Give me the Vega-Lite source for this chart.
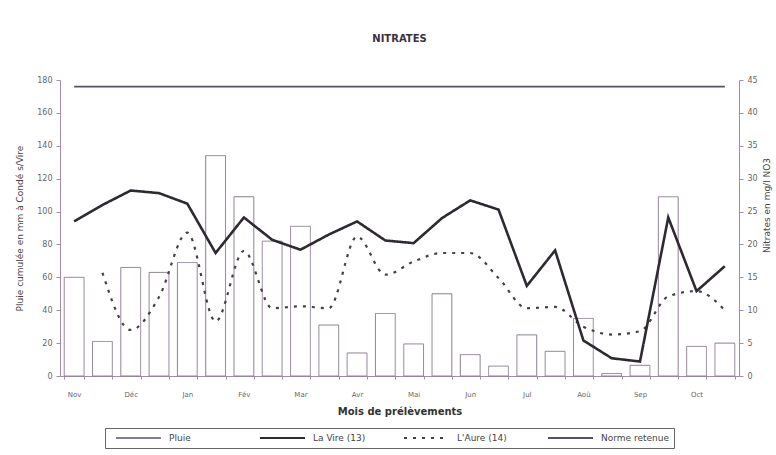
{
  "$schema": "https://vega.github.io/schema/vega-lite/v6.json",
  "width": 679,
  "height": 296,
  "autosize": {"type": "none"},
  "padding": {"left": 60, "top": 80, "right": 37, "bottom": 79},
  "background": "white",
  "config": {
    "font": "DejaVu Sans",
    "view": {"stroke": null},
    "axis": {"domainColor": "#a58aaa", "tickColor": "#a58aaa", "labelColor": "#666666", "labelFontSize": 8, "titleColor": "#444444", "titleFontWeight": "normal", "grid": false},
    "legend": {
      "orient": "none",
      "legendX": 45,
      "legendY": 348,
      "direction": "horizontal",
      "columns": 4,
      "padding": 5,
      "strokeColor": "#666666",
      "fillColor": "white",
      "symbolSize": 2025,
      "symbolOffset": 5,
      "labelOffset": 7,
      "columnPadding": 17,
      "gridAlign": "all",
      "clipHeight": 10,
      "labelFontSize": 9,
      "labelColor": "#444444",
      "symbolType": "stroke",
      "symbolStrokeWidth": 2,
      "title": null
    }
  },
  "title": {"text": "NITRATES", "fontSize": 10, "fontWeight": "bold", "color": "#3a3040", "offset": 32, "anchor": "middle"},
  "data": {
    "values": [
      {"q": "Nov 1", "pluie": 60, "vire": 23.5, "aure": null, "norme": 44},
      {"q": "Nov 2", "pluie": 21, "vire": 26, "aure": 15.7, "norme": 44},
      {"q": "Déc 1", "pluie": 66, "vire": 28.2, "aure": 7.0, "norme": 44},
      {"q": "Déc 2", "pluie": 63, "vire": 27.8, "aure": 12, "norme": 44},
      {"q": "Jan 1", "pluie": 69, "vire": 26.2, "aure": 21.8, "norme": 44},
      {"q": "Jan 2", "pluie": 134, "vire": 18.7, "aure": 8.3, "norme": 44},
      {"q": "Fév 1", "pluie": 109, "vire": 24.1, "aure": 19.0, "norme": 44},
      {"q": "Fév 2", "pluie": 82, "vire": 20.7, "aure": 10.3, "norme": 44},
      {"q": "Mar 1", "pluie": 91, "vire": 19.2, "aure": 10.6, "norme": 44},
      {"q": "Mar 2", "pluie": 31, "vire": 21.5, "aure": 10.3, "norme": 44},
      {"q": "Avr 1", "pluie": 14, "vire": 23.5, "aure": 21.2, "norme": 44},
      {"q": "Avr 2", "pluie": 38, "vire": 20.6, "aure": 15.4, "norme": 44},
      {"q": "Mai 1", "pluie": 19.5, "vire": 20.2, "aure": 17.4, "norme": 44},
      {"q": "Mai 2", "pluie": 50, "vire": 24.0, "aure": 18.7, "norme": 44},
      {"q": "Jun 1", "pluie": 13, "vire": 26.7, "aure": 18.7, "norme": 44},
      {"q": "Jun 2", "pluie": 6, "vire": 25.3, "aure": 14.9, "norme": 44},
      {"q": "Jul 1", "pluie": 25, "vire": 13.7, "aure": 10.3, "norme": 44},
      {"q": "Jul 2", "pluie": 15, "vire": 19.1, "aure": 10.5, "norme": 44},
      {"q": "Aoû 1", "pluie": 35, "vire": 5.4, "aure": 7.5, "norme": 44},
      {"q": "Aoû 2", "pluie": 1.5, "vire": 2.7, "aure": 6.3, "norme": 44},
      {"q": "Sep 1", "pluie": 6.5, "vire": 2.2, "aure": 6.8, "norme": 44},
      {"q": "Sep 2", "pluie": 109, "vire": 24.1, "aure": 12.1, "norme": 44},
      {"q": "Oct 1", "pluie": 18, "vire": 12.9, "aure": 12.9, "norme": 44},
      {"q": "Oct 2", "pluie": 20, "vire": 16.7, "aure": 10.0, "norme": 44}
    ]
  },
  "encoding": {
    "x": {
      "field": "q",
      "type": "ordinal",
      "sort": null,
      "scale": {"paddingInner": 0.3, "paddingOuter": 0.15},
      "axis": {
        "title": "Mois de prélèvements",
        "titleFontWeight": "bold",
        "titleFontSize": 10,
        "titleColor": "#333333",
        "titlePadding": 9,
        "labelAngle": 0,
        "labelExpr": "substring(datum.value, 4, 5) == '1' ? substring(datum.value, 0, 3) : ''",
        "labelPadding": 11,
        "labelDx": -2,
        "tickBand": "extent",
        "tickSize": 3,
        "labelFontSize": 7
      }
    }
  },
  "layer": [
    {
      "mark": {"type": "bar", "fill": "white", "strokeWidth": 1},
      "encoding": {
        "y": {
          "field": "pluie",
          "type": "quantitative",
          "scale": {"domain": [0, 180]},
          "axis": {"title": "Pluie cumulée en mm à Condé s/Vire", "titleFontSize": 9, "values": [0, 20, 40, 60, 80, 100, 120, 140, 160, 180], "tickSize": 4, "labelPadding": 4, "titlePadding": 12}
        },
        "stroke": {
          "datum": "Pluie",
          "type": "nominal",
          "scale": {"domain": ["Pluie", "La Vire (13)", "L'Aure (14)", "Norme retenue"], "range": ["#8a7a8e", "#2f2a32", "#454045", "#5e4d63"]}
        },
        "strokeDash": {
          "datum": "Pluie",
          "type": "nominal",
          "scale": {"domain": ["Pluie", "La Vire (13)", "L'Aure (14)", "Norme retenue"], "range": [[1, 0], [1, 0], [3, 6], [1, 0]]}
        }
      }
    },
    {
      "layer": [
        {
          "mark": {"type": "line", "strokeWidth": 1.6},
          "encoding": {
            "y": {
              "field": "norme",
              "type": "quantitative",
              "scale": {"domain": [0, 45]},
              "axis": {"orient": "right", "title": "Nitrates en mg/l NO3", "titleAngle": 270, "titleFontSize": 9, "titleY": 125, "values": [0, 5, 10, 15, 20, 25, 30, 35, 40, 45], "tickSize": 4, "labelPadding": 4, "titlePadding": 14}
            },
            "stroke": {"datum": "Norme retenue", "type": "nominal"},
            "strokeDash": {"datum": "Norme retenue", "type": "nominal"}
          }
        },
        {
          "mark": {"type": "line", "strokeWidth": 2.2, "interpolate": "monotone"},
          "encoding": {
            "y": {"field": "aure", "type": "quantitative", "axis": {"orient": "right", "title": "Nitrates en mg/l NO3", "titleAngle": 270, "titleFontSize": 9, "titleY": 125, "values": [0, 5, 10, 15, 20, 25, 30, 35, 40, 45], "tickSize": 4, "labelPadding": 4, "titlePadding": 14}},
            "stroke": {"datum": "L'Aure (14)", "type": "nominal"},
            "strokeDash": {"datum": "L'Aure (14)", "type": "nominal"}
          }
        },
        {
          "mark": {"type": "line", "strokeWidth": 2.6},
          "encoding": {
            "y": {"field": "vire", "type": "quantitative", "axis": {"orient": "right", "title": "Nitrates en mg/l NO3", "titleAngle": 270, "titleFontSize": 9, "titleY": 125, "values": [0, 5, 10, 15, 20, 25, 30, 35, 40, 45], "tickSize": 4, "labelPadding": 4, "titlePadding": 14}},
            "stroke": {"datum": "La Vire (13)", "type": "nominal"},
            "strokeDash": {"datum": "La Vire (13)", "type": "nominal"}
          }
        }
      ]
    }
  ],
  "resolve": {"scale": {"y": "independent"}}
}
